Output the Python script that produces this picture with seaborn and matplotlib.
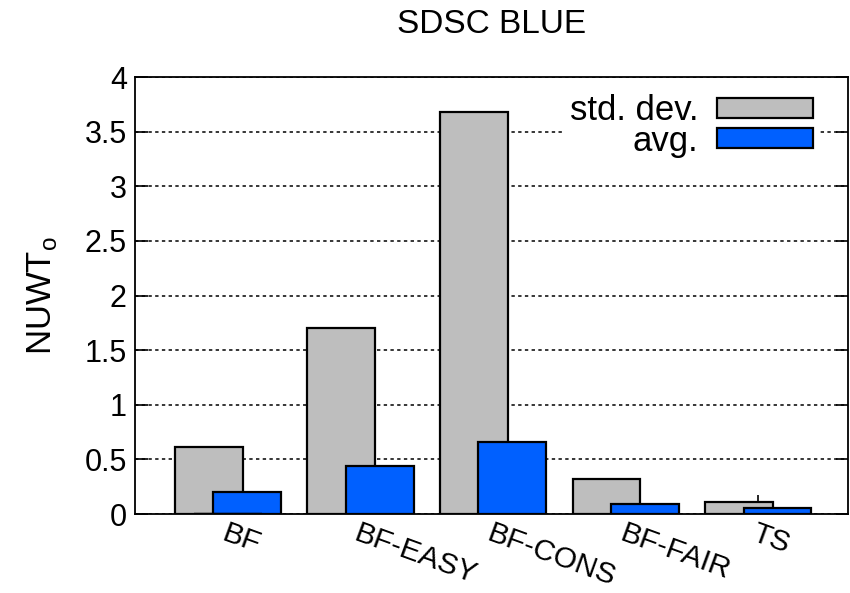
import matplotlib
matplotlib.use("Agg")
import matplotlib.pyplot as plt
import seaborn as sns
import pandas as pd

# Scheduling policies and their NUWT_o statistics on the SDSC BLUE trace
policies = ["BF", "BF-EASY", "BF-CONS", "BF-FAIR", "TS"]
std_dev = [0.61, 1.70, 3.68, 0.32, 0.11]
avg = [0.20, 0.44, 0.66, 0.09, 0.055]
series_names = ["std. dev.", "avg."]
series_colors = ["#bebebe", "#0060ff"]
y_ticks = [0, 0.5, 1, 1.5, 2, 2.5, 3, 3.5, 4]
y_tick_labels = ["0", "0.5", "1", "1.5", "2", "2.5", "3", "3.5", "4"]

df = pd.DataFrame({
    "policy": policies * 2,
    "value": std_dev + avg,
    "series": [series_names[0]] * len(policies) + [series_names[1]] * len(policies),
})

sns.set_style("white")
plt.rcParams["font.family"] = ["Liberation Sans", "DejaVu Sans"]
plt.rcParams["mathtext.fontset"] = "custom"
plt.rcParams["mathtext.rm"] = "Liberation Sans"
plt.rcParams["text.color"] = "black"
plt.rcParams["axes.labelcolor"] = "black"
plt.rcParams["xtick.color"] = "black"
plt.rcParams["ytick.color"] = "black"

fig = plt.figure(figsize=(8.5, 5.93), dpi=100)
ax = fig.add_axes([0.159, 0.1332, 0.839, 0.7368])
ax.set_axisbelow(True)

sns.barplot(data=df, x="policy", y="value", hue="series", order=policies,
            hue_order=series_names, palette=series_colors, width=0.58,
            dodge=True, edgecolor="black", linewidth=1.6, saturation=1,
            errorbar=None, ax=ax)

# gnuplot-style overlapping bars: widen each bar around its own centre
bar_w = 0.51
for p in ax.patches:
    c = p.get_x() + p.get_width() / 2
    p.set_width(bar_w)
    p.set_x(c - bar_w / 2)

ax.set_xlim(-0.70, 4.68)
ax.set_ylim(0, 4)
ax.set_yticks(y_ticks)
ax.set_yticklabels(y_tick_labels, fontsize=22)
ax.set_xticks(range(len(policies)))
ax.set_xticklabels(policies, fontsize=21.5, rotation=-20, ha="left", va="top",
                   rotation_mode="anchor")
ax.tick_params(axis="y", direction="in", length=9, width=1.2, left=True,
               right=True, pad=6)
ax.tick_params(axis="x", direction="in", length=14, width=1.2, bottom=True,
               pad=4)

ax.yaxis.grid(True, color="black", linestyle=(0, (2.2, 2.2)), linewidth=1.1)
ax.xaxis.grid(False)
for s in ax.spines.values():
    s.set_visible(True)
    s.set_color("black")
    s.set_linewidth(1.3)

ax.set_xlabel("")
ax.set_ylabel(r"NUWT$_\mathregular{o}$", fontsize=25, labelpad=18)
ax.set_title("SDSC BLUE", fontsize=24, pad=32)

leg = ax.legend(loc="upper right", bbox_to_anchor=(0.984, 1.016),
                fontsize=25, markerfirst=False, handlelength=2.75,
                handleheight=0.5, handletextpad=0.55, labelspacing=-0.08,
                borderpad=0.2, frameon=True, fancybox=False)
leg.get_frame().set_facecolor("white")
leg.get_frame().set_edgecolor("none")
leg.get_frame().set_alpha(1)
for t in leg.get_texts():
    t.set_ha("right")

fig.savefig("out.png", dpi=100)
